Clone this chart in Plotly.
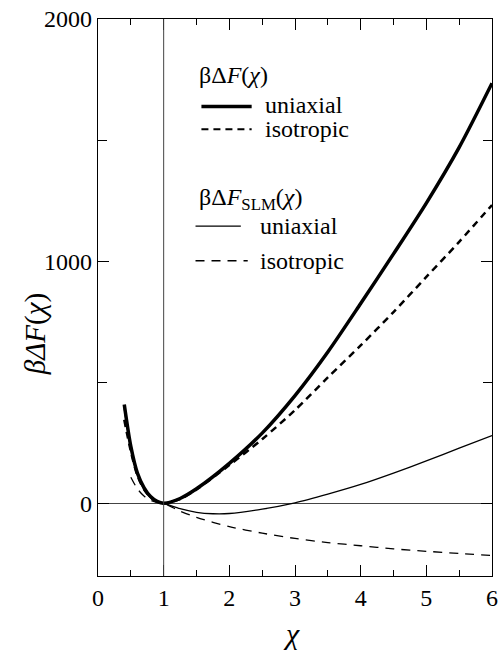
import plotly.graph_objects as go

# ---- data ----
chi_full = [0.4, 0.5, 0.6, 0.7, 0.8, 0.9, 1.0, 1.25, 1.5, 2.0, 2.5, 3.0, 3.5, 4.0, 4.5, 5.0, 5.5, 6.0]
F_uniaxial = [408, 235, 125, 65, 28, 8, 0, 20, 60, 165, 290, 445, 625, 825, 1030, 1240, 1470, 1735]
F_isotropic = [345, 215, 115, 58, 25, 7, 0, 18, 57, 158, 265, 385, 520, 652, 790, 935, 1080, 1232]

chi_slm_u = [0.4, 0.5, 0.6, 0.7, 0.8, 0.9, 1.0, 1.25, 1.5, 1.75, 2.0, 2.5, 3.0, 3.5, 4.0, 4.5, 5.0, 5.5, 6.0]
F_slm_uniaxial = [390, 225, 118, 58, 23, 5, 0, -22, -37, -43, -42, -24, 2, 38, 78, 125, 175, 228, 280]

chi_slm_i = [0.5, 0.6, 0.7, 0.8, 0.9, 1.0, 1.25, 1.5, 2.0, 2.5, 3.0, 3.5, 4.0, 4.5, 5.0, 5.5, 6.0]
F_slm_isotropic = [108, 60, 30, 13, 4, 0, -32, -58, -96, -123, -145, -162, -175, -188, -198, -207, -215]

ref_chi = 1.0
x_ticks = [0, 1, 2, 3, 4, 5, 6]
y_ticks = [0, 1000, 2000]

FONT = "Liberation Serif"

fig = go.Figure()
fig.add_trace(go.Scatter(x=chi_full, y=F_uniaxial, mode="lines",
                         line=dict(color="black", width=3.5, shape="spline", smoothing=0.8)))
fig.add_trace(go.Scatter(x=chi_full, y=F_isotropic, mode="lines",
                         line=dict(color="black", width=2.5, dash="7px,5px", shape="spline", smoothing=0.8)))
fig.add_trace(go.Scatter(x=chi_slm_u, y=F_slm_uniaxial, mode="lines",
                         line=dict(color="black", width=1.3, shape="spline", smoothing=0.8)))
fig.add_trace(go.Scatter(x=chi_slm_i, y=F_slm_isotropic, mode="lines",
                         line=dict(color="black", width=1.3, dash="9px,7px", shape="spline", smoothing=0.8)))

# vertical reference line at chi = 1
fig.add_shape(type="line", xref="x", yref="paper", x0=ref_chi, x1=ref_chi, y0=0, y1=1,
              line=dict(color="#444", width=1))

axis_common = dict(showline=True, linecolor="black", linewidth=1.3, mirror="ticks",
                   ticks="inside", tickcolor="black", tickwidth=1.3, ticklen=11,
                   showgrid=False, tickfont=dict(family=FONT, size=24, color="black"))

fig.update_xaxes(range=[0, 6], tickvals=x_ticks, ticktext=[str(v) for v in x_ticks],
                 minor=dict(dtick=0.5, ticks="inside", ticklen=6, tickcolor="black", tickwidth=1.3),
                 zeroline=False, **axis_common)
fig.update_yaxes(range=[-300, 2000], tickvals=y_ticks, ticktext=[str(v) for v in y_ticks],
                 minor=dict(dtick=500, ticks="inside", ticklen=9, tickcolor="black", tickwidth=1.3),
                 zeroline=True, zerolinecolor="#444", zerolinewidth=1, **axis_common)

ann = []
# axis titles
ann.append(dict(text="<i>χ</i>", xref="paper", yref="paper", x=0.49, y=-0.1362,
                xanchor="center", yanchor="bottom", showarrow=False,
                font=dict(family=FONT, size=30, color="black")))
ann.append(dict(text="<i>βΔF</i>(<i>χ</i>)", xref="paper", yref="paper", x=-0.16, y=0.434,
                xanchor="center", yanchor="middle", showarrow=False, textangle=-90,
                font=dict(family=FONT, size=29, color="black")))

# legend
lf = dict(family=FONT, size=24, color="black")
ann.append(dict(text="βΔ<i>F</i>(<i>χ</i>)", xref="paper", yref="paper", x=0.25, y=0.90,
                xanchor="left", yanchor="middle", showarrow=False, font=lf))
ann.append(dict(text="uniaxial", xref="paper", yref="paper", x=0.42, y=0.845,
                xanchor="left", yanchor="middle", showarrow=False, font=lf))
ann.append(dict(text="isotropic", xref="paper", yref="paper", x=0.42, y=0.803,
                xanchor="left", yanchor="middle", showarrow=False, font=lf))
ann.append(dict(text="βΔ<i>F</i><sub>SLM</sub>(<i>χ</i>)", xref="paper", yref="paper", x=0.25, y=0.677,
                xanchor="left", yanchor="middle", showarrow=False, font=lf))
ann.append(dict(text="uniaxial", xref="paper", yref="paper", x=0.405, y=0.629,
                xanchor="left", yanchor="middle", showarrow=False, font=lf))
ann.append(dict(text="isotropic", xref="paper", yref="paper", x=0.405, y=0.566,
                xanchor="left", yanchor="middle", showarrow=False, font=lf))
fig.update_layout(annotations=ann)

fig.add_shape(type="line", xref="paper", yref="paper", x0=0.2625, x1=0.39, y0=0.843, y1=0.843,
              line=dict(color="black", width=3.5))
fig.add_shape(type="line", xref="paper", yref="paper", x0=0.2625, x1=0.39, y0=0.802, y1=0.802,
              line=dict(color="black", width=2, dash="7px,5px"))
fig.add_shape(type="line", xref="paper", yref="paper", x0=0.2475, x1=0.3625, y0=0.628, y1=0.628,
              line=dict(color="black", width=1.3))
fig.add_shape(type="line", xref="paper", yref="paper", x0=0.2475, x1=0.38, y0=0.566, y1=0.566,
              line=dict(color="black", width=1.3, dash="9px,7px"))

fig.update_layout(width=504, height=652, showlegend=False,
                  margin=dict(l=98, r=6, t=18, b=76),
                  paper_bgcolor="white", plot_bgcolor="white",
                  font=dict(family=FONT, color="black"))

fig.write_html("out.html")
